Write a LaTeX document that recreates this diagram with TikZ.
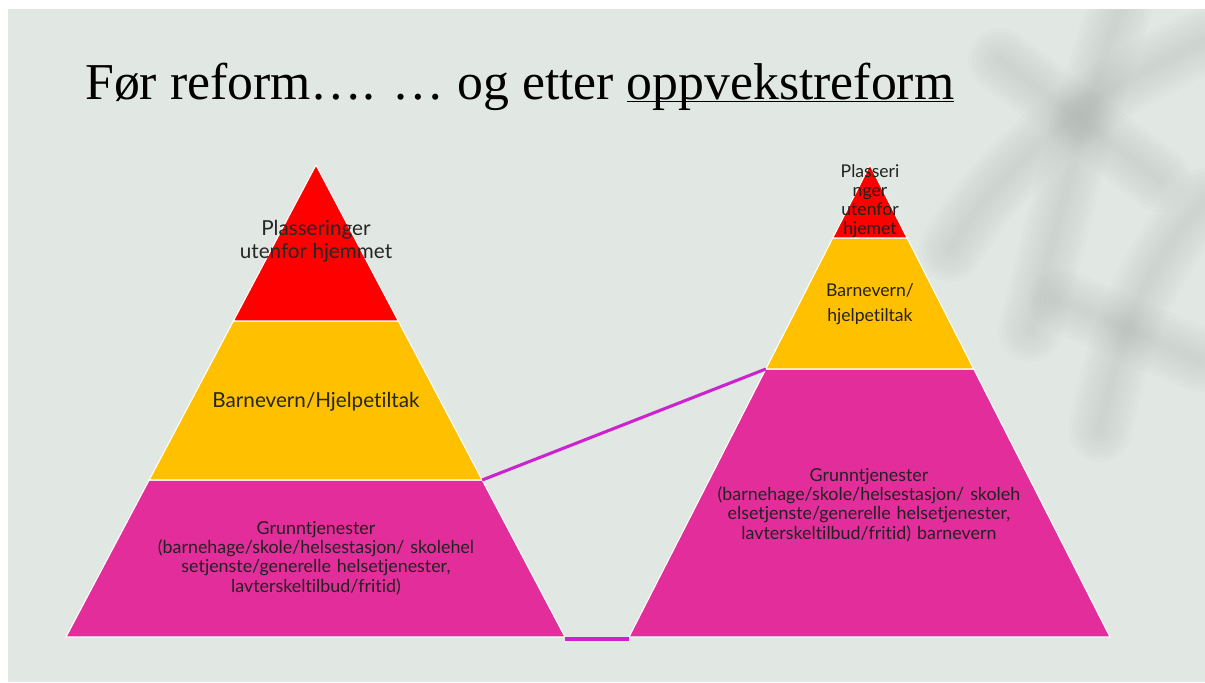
\documentclass[tikz,border=0pt]{standalone}
\usepackage{fontspec}
\setmainfont{Liberation Serif}
\newfontfamily\bodyfont[Ligatures={NoCommon}]{Lato}
\usetikzlibrary{calc}
\definecolor{slidebg}{RGB}{225,231,227}
\definecolor{shadowgray}{RGB}{160,168,164}
\definecolor{toplayer}{RGB}{255,0,0}
\definecolor{midlayer}{RGB}{255,192,0}
\definecolor{baselayer}{RGB}{227,45,154}
\definecolor{linkline}{RGB}{204,34,208}
\definecolor{labeltext}{RGB}{38,38,38}
\def\layerfill#1{\filldraw[fill=#1,draw=white,line width=0.8pt]}
\def\ulword#1{\setbox0\hbox{#1}\rlap{\rule[-2.6pt]{\wd0}{0.9pt}}\box0}

\begin{document}
\begin{tikzpicture}[x=0.75pt,y=-0.75pt,
    label/.style={font=\bodyfont\fontsize{15.5}{17.5}\selectfont,text=labeltext,align=center,inner sep=0pt},
    smalllabel/.style={font=\bodyfont\fontsize{13.4}{14.4}\selectfont,text=labeltext!90!black,align=center,inner sep=0pt},
    link/.style={draw=linkline,line width=2.3pt},
    shadowstroke/.style={draw=shadowgray,line cap=round,line join=round,opacity=0.035}]
    % Rahmen
    \useasboundingbox (0,0) rectangle (1205,682);
    \fill[white] (0,0) rectangle (1205,682);
    \fill[slidebg] (8,9) rectangle (1205,682);
    % Blattschatten oben rechts
    \begin{scope}
      \clip (8,9) rectangle (1205,682);
      \foreach \w in {6,12,...,48} {
        \draw[shadowstroke,line width=\w pt] (1205,40) .. controls (1100,90) and (1010,150) .. (950,250);
        \draw[shadowstroke,line width=\w pt] (1120,10) .. controls (1080,120) and (1060,220) .. (1030,330);
        \draw[shadowstroke,line width=\w pt] (1205,200) .. controls (1150,260) and (1120,330) .. (1100,430);
        \draw[shadowstroke,line width=\w pt] (1000,60) -- (1160,180);
        \draw[shadowstroke,line width=\w pt] (1060,300) -- (1200,360);
      }
    \end{scope}
    % Titel
    \node[anchor=base west,inner sep=0pt,font=\fontsize{38.8}{44}\selectfont] (title) at (85,99)
      {Før reform…. … og etter \ulword{oppvekstreform}};

    % venstre pyramide
    \coordinate (LA) at (316,165);
    \coordinate (LL) at (66,637);
    \coordinate (LR) at (565,637);
    \coordinate (L1l) at ($(LA)!0.3305!(LL)$);
    \coordinate (L1r) at ($(LA)!0.3305!(LR)$);
    \coordinate (L2l) at ($(LA)!0.6674!(LL)$);
    \coordinate (L2r) at ($(LA)!0.6674!(LR)$);
    \layerfill{baselayer} (L2l) -- (L2r) -- (LR) -- (LL) -- cycle;
    \layerfill{midlayer} (L1l) -- (L1r) -- (L2r) -- (L2l) -- cycle;
    \layerfill{toplayer} (LA) -- (L1r) -- (L1l) -- cycle;
    \node[label] (ltop) at (316,241) {Plasseringer\\utenfor hjemmet};
    \node[label] (lmid) at (316,402) {Barnevern/Hjelpetiltak};
    \node[smalllabel,text width=300pt] (lbase) at (316,558)
      {Grunntjenester\\(barnehage/skole/helsestasjon/ skolehel\\setjenste/generelle helsetjenester,\\lavterskeltilbud/fritid)};

    % høyre pyramide
    \coordinate (RA) at (870,165);
    \coordinate (RL) at (629,637);
    \coordinate (RR) at (1110,637);
    \coordinate (R1l) at ($(RA)!0.1547!(RL)$);
    \coordinate (R1r) at ($(RA)!0.1547!(RR)$);
    \coordinate (R2l) at ($(RA)!0.4322!(RL)$);
    \coordinate (R2r) at ($(RA)!0.4322!(RR)$);
    \layerfill{baselayer} (R2l) -- (R2r) -- (RR) -- (RL) -- cycle;
    \layerfill{midlayer} (R1l) -- (R1r) -- (R2r) -- (R2l) -- cycle;
    \layerfill{toplayer} (RA) -- (R1r) -- (R1l) -- cycle;
    \node[smalllabel,font=\bodyfont\fontsize{13.2}{14.2}\selectfont] (rtop) at (870,201) {Plasseri\\nger\\utenfor\\hjemet};
    \node[smalllabel,font=\bodyfont\fontsize{13.2}{18.8}\selectfont] (rmid) at (870,304) {Barnevern/\\hjelpetiltak};
    \node[smalllabel,text width=300pt] (rbase) at (869,505)
      {Grunntjenester\\(barnehage/skole/helsestasjon/ skoleh\\elsetjenste/generelle helsetjenester,\\lavterskeltilbud/fritid) barnevern};

    % Forbindelser
    \draw[link] (L2r) -- (R2l);
    \draw[link] ([yshift=-1.5pt]LR) -- ([yshift=-1.5pt]RL);
\end{tikzpicture}
\end{document}
